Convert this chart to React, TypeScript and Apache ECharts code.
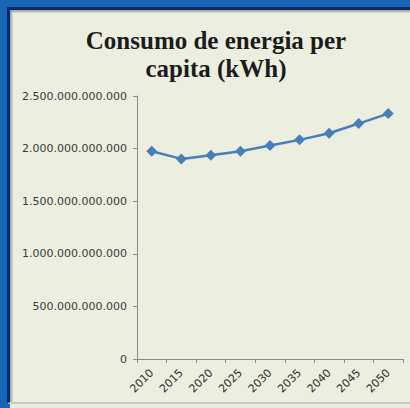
import React, { useEffect, useRef } from "react";
import * as echarts from "echarts";

const titleText = "Consumo de energia per\ncapita (kWh)";
const years = ["2010", "2015", "2020", "2025", "2030", "2035", "2040", "2045", "2050"];
const consumo = [
  1974000000000, 1902000000000, 1936000000000, 1974000000000, 2029000000000,
  2083000000000, 2146000000000, 2238000000000, 2333000000000,
];
const yTicks = { min: 0, max: 2500000000000, interval: 500000000000 };

function fmt(v: number): string {
  return String(Math.round(v)).replace(/\B(?=(\d{3})+(?!\d))/g, ".");
}

export default function App() {
  const ref = useRef<HTMLDivElement>(null);
  useEffect(() => {
    if (!ref.current) return;
    const chart = echarts.init(ref.current, null, { renderer: "svg" });
    chart.setOption({
      animation: false,
      backgroundColor: "transparent",
      title: {
        text: titleText,
        left: 211,
        top: 21,
        textAlign: "center",
        textStyle: {
          fontFamily: "Liberation Serif",
          fontWeight: "bold",
          fontSize: 25,
          lineHeight: 28,
          color: "#1c1c1c",
        },
      },
      grid: { left: 137, right: 7, top: 96, bottom: 49, containLabel: false },
      xAxis: {
        type: "category",
        data: years,
        boundaryGap: true,
        axisLine: { lineStyle: { color: "#8a8a8a", width: 1 } },
        axisTick: { show: true, length: 4, alignWithLabel: false, lineStyle: { color: "#8a8a8a" } },
        axisLabel: {
          rotate: 45,
          interval: 0,
          margin: 12,
          fontFamily: "DejaVu Sans",
          fontSize: 11,
          color: "#303030",
        },
        splitLine: { show: false },
      },
      yAxis: {
        type: "value",
        min: yTicks.min,
        max: yTicks.max,
        interval: yTicks.interval,
        axisLine: { show: true, lineStyle: { color: "#8a8a8a", width: 1 } },
        axisTick: { show: true, length: 4, lineStyle: { color: "#8a8a8a" } },
        axisLabel: {
          margin: 10,
          fontFamily: "DejaVu Sans",
          fontSize: 11,
          color: "#3a3a3a",
          formatter: (v: number) => fmt(v),
        },
        splitLine: { show: false },
      },
      series: [
        {
          type: "line",
          data: consumo,
          symbol: "diamond",
          symbolSize: 11,
          lineStyle: { color: "#4a7ebb", width: 2.5 },
          itemStyle: { color: "#4a7ebb" },
        },
      ],
    });
    return () => chart.dispose();
  }, []);

  return (
    <div style={{ position: "fixed", left: 0, top: 0, width: 410, height: 408, background: "#1766b4", overflow: "hidden" }}>
      <div
        style={{
          position: "absolute",
          left: 7,
          top: 7,
          width: 410,
          height: 397,
          boxSizing: "border-box",
          background: "#eceedf",
          borderLeft: "3px solid #0c2a6b",
          borderTop: "3px solid #0c2a6b",
          borderBottom: "2px solid #c9cabd",
          boxShadow: "inset 2px 2px 2px rgba(0,0,0,0.3)",
        }}
      />
      <div style={{ position: "absolute", left: 10, top: 404, width: 400, height: 4, background: "#e9ebdd" }} />
      <div ref={ref} style={{ position: "absolute", left: 0, top: 0, width: 410, height: 408 }} />
    </div>
  );
}
